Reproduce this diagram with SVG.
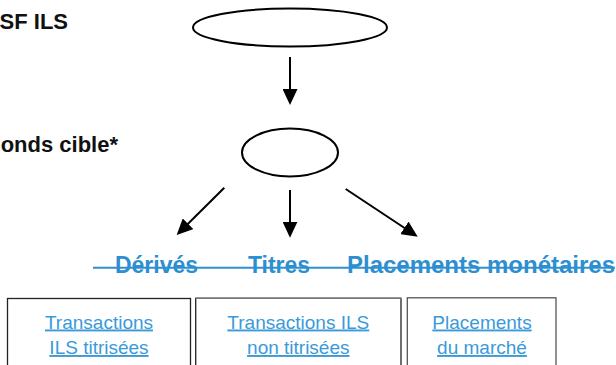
<svg xmlns="http://www.w3.org/2000/svg" width="616" height="365" viewBox="0 0 616 365">
  <style>
    .title { font-family: "Liberation Sans", Arial, sans-serif; font-weight: bold; font-size: 22px; fill: #111; }
    .node { fill: none; stroke: #000; stroke-width: 2; }
    .conn { stroke: #000; stroke-width: 2; fill: none; }
    .cat { font-family: "Liberation Sans", Arial, sans-serif; font-weight: bold; font-size: 23px; fill: #2e8fd0; }
    .strike { stroke: #2e8fd0; stroke-width: 2; }
    .box { fill: #fff; stroke-width: 1.3; }
    .link { font-family: "Liberation Sans", Arial, sans-serif; font-size: 19px; fill: #3a9ad9; text-anchor: middle; text-decoration: underline; }
  </style>
  <defs>
    <marker id="arrow" markerUnits="userSpaceOnUse" markerWidth="17" markerHeight="15" refX="12" refY="7.5" orient="auto">
      <path d="M0,0 L16,7.5 L0,15 z" fill="#000"/>
    </marker>
  </defs>
  <rect width="616" height="365" fill="#fff"/>

  <g id="label-top">
    <text class="title" x="68" y="29" text-anchor="end">SF ILS</text>
  </g>
  <g id="label-mid">
    <text class="title" x="118" y="152" text-anchor="end">onds cible*</text>
  </g>

  <g id="node-top">
    <ellipse class="node" cx="290" cy="27.5" rx="97" ry="19"/>
  </g>
  <g id="node-mid">
    <ellipse class="node" cx="290" cy="152.5" rx="48" ry="24"/>
  </g>

  <g id="connectors">
    <line class="conn" x1="290" y1="57" x2="290" y2="101" marker-end="url(#arrow)"/>
    <line class="conn" x1="224.3" y1="187.7" x2="179.5" y2="232.2" marker-end="url(#arrow)"/>
    <line class="conn" x1="290" y1="190" x2="290" y2="233.7" marker-end="url(#arrow)"/>
    <line class="conn" x1="345.7" y1="189" x2="414.4" y2="234.5" marker-end="url(#arrow)"/>
  </g>

  <g id="categories">
    <text class="cat" x="115" y="272.5" textLength="83" lengthAdjust="spacingAndGlyphs">Dérivés</text>
    <text class="cat" x="248" y="272.5" textLength="62" lengthAdjust="spacingAndGlyphs">Titres</text>
    <text class="cat" x="347" y="272.5" textLength="268" lengthAdjust="spacingAndGlyphs">Placements monétaires</text>
    <line class="strike" x1="93" y1="267.7" x2="615" y2="267.7"/>
  </g>

  <g id="box-1">
    <rect class="box" x="7.5" y="298.5" width="183" height="80" stroke="#222"/>
    <text class="link" x="99" y="328.5">Transactions</text>
    <text class="link" x="99" y="354">ILS titrisées</text>
  </g>
  <g id="box-2">
    <rect class="box" x="195.7" y="298.3" width="205.3" height="80" stroke="#222"/>
    <line x1="195.7" y1="298.3" x2="401" y2="298.3" stroke="#777" stroke-width="1.5"/>
    <text class="link" x="298.3" y="328.5">Transactions ILS</text>
    <text class="link" x="298.3" y="354">non titrisées</text>
  </g>
  <g id="box-3">
    <rect class="box" x="407.3" y="297.8" width="148.7" height="80" stroke="#555"/>
    <text class="link" x="482" y="328.5">Placements</text>
    <text class="link" x="482" y="354">du marché</text>
  </g>
</svg>
